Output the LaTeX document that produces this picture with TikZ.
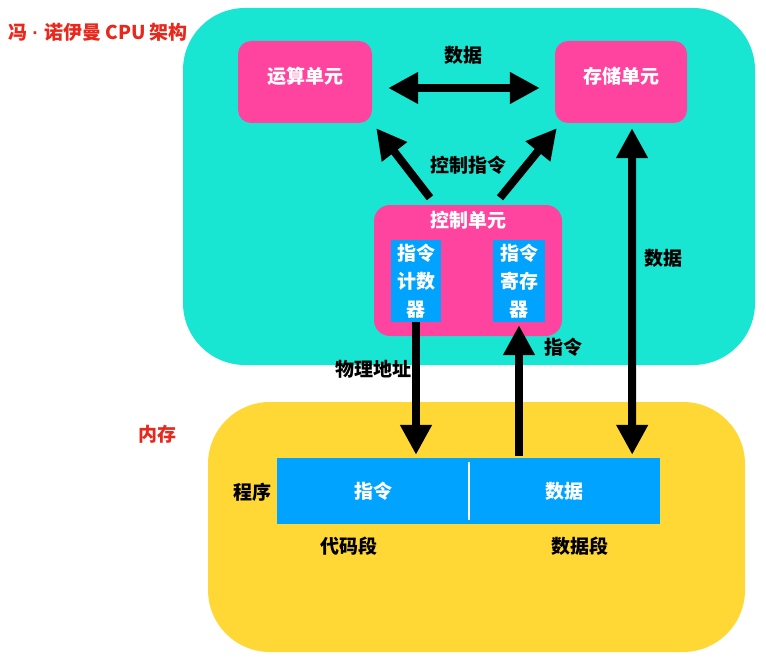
\documentclass[tikz,border=0pt]{standalone}
\usepackage{fontspec}
\setmainfont{Noto Sans CJK SC}
\newfontfamily\latinsans{Liberation Sans}
\usetikzlibrary{arrows.meta}
\definecolor{cpuc}{RGB}{25,230,210}
\definecolor{memc}{RGB}{255,216,53}
\definecolor{unitc}{RGB}{255,68,160}
\definecolor{regc}{RGB}{0,163,255}
\definecolor{titlec}{RGB}{232,40,28}
\tikzset{
  txt/.style={font=\bfseries\fontsize{19}{27}\selectfont, inner sep=0pt},
  region/.style={inner sep=0pt, rounded corners=62pt},
  unitbox/.style={fill=unitc, inner sep=0pt, rounded corners=13pt},
  unittext/.style={txt, text=white},
  regbox/.style={fill=regc, inner sep=0pt, text=white, align=center,
    font=\bfseries\fontsize{19}{28}\selectfont},
  segbox/.style={fill=regc, inner sep=0pt, text=white,
    font=\bfseries\fontsize{19}{27}\selectfont},
  bigarrow/.style={line width=8pt, -{Triangle[width=30pt,length=30pt]}},
  bothway/.style={line width=8pt, {Triangle[width=30pt,length=30pt]}-{Triangle[width=30pt,length=30pt]}},
}
\begin{document}
\begin{tikzpicture}[x=1pt,y=-1pt]
\useasboundingbox (0,0) rectangle (766,658);

% processor and memory regions
\node[region, fill=cpuc, minimum width=572, minimum height=357] (cpu) at (469,186.5) {};
\node[region, fill=memc, minimum width=537, minimum height=250] (ram) at (476.5,527) {};

\node[txt, text=titlec, anchor=west] (title) at (8,32) {冯{\latinsans\ ·\ }诺伊曼 CPU 架构};
\node[txt, text=titlec] (ramlbl) at (157,434) {内存};

% arithmetic and storage units
\node[unitbox, minimum width=134, minimum height=82] (alu) at (305,82) {};
\node[unittext] (alut) at (305,76) {运算单元};
\node[unitbox, minimum width=132, minimum height=82] (sto) at (621,82) {};
\node[unittext] (stot) at (621,76) {存储单元};

% control unit with its two registers
\node[unitbox, rounded corners=16pt, minimum width=188, minimum height=131] (cu) at (468,270.5) {};
\node[unittext] (cut) at (468,220) {控制单元};
\node[regbox, minimum width=50, minimum height=82] (pc) at (416,281) {指令\\计数\\器};
\node[regbox, minimum width=52, minimum height=82] (ir) at (519,281) {指令\\寄存\\器};

% program in memory
\node[segbox, minimum width=192, minimum height=66] (code) at (373,491) {指令};
\node[segbox, minimum width=191, minimum height=66] (data) at (564.5,491) {数据};
\draw[white, line width=1.5pt] ([yshift=-4]code.north east) -- ([yshift=4]code.south east);

\node[txt] (prog) at (252,492) {程序};
\node[txt] (codelbl) at (349,546) {代码段};
\node[txt] (datalbl) at (580,546) {数据段};

% connectors
\draw[bothway] ([xshift=16,yshift=-6]alu.east) -- ([xshift=-15,yshift=-6]sto.west);
\node[txt] (datatop) at (463,55) {数据};

\draw[bigarrow] ([xshift=-38,yshift=7]cu.north) -- ([xshift=4,yshift=-5]alu.south east);
\draw[bigarrow] ([xshift=32,yshift=7]cu.north) -- ([xshift=2,yshift=-5]sto.south west);
\node[txt] (ctrl) at (468,165) {控制指令};

\draw[bothway] ([xshift=11,yshift=-5]sto.south) -- ([xshift=-28,yshift=3]data.north east);
\node[txt] (dataright) at (663,258) {数据};

\draw[bigarrow] (pc.south) -- ([yshift=3]pc.south |- code.north);
\node[txt] (addr) at (373,369) {物理地址};

\draw[bigarrow] ([yshift=2]ir.south |- data.north) -- ([yshift=-3]ir.south);
\node[txt] (instr) at (563,347) {指令};
\end{tikzpicture}
\end{document}
